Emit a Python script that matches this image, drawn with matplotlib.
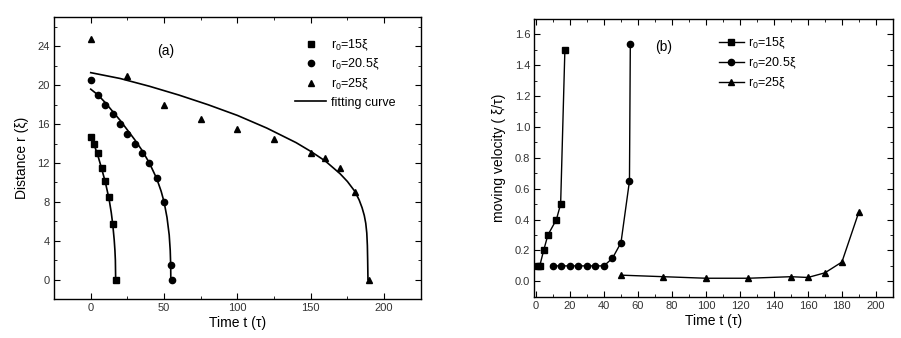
import matplotlib
matplotlib.use('Agg')
import matplotlib.pyplot as plt
from matplotlib.ticker import MultipleLocator, FormatStrFormatter

plt.rcParams['font.family'] = ['Liberation Sans', 'DejaVu Sans']
plt.rcParams['mathtext.fontset'] = 'custom'
plt.rcParams['mathtext.rm'] = 'Liberation Sans'

# ---- panel (a): distance vs time ----
t_a15 = [0, 2.5, 5, 7.5, 10, 12.5, 15, 17]
r_a15 = [14.7, 14.0, 13.0, 11.5, 10.2, 8.5, 5.7, 0]
t_a20 = [0, 5, 10, 15, 20, 25, 30, 35, 40, 45, 50, 55, 55.5]
r_a20 = [20.5, 19.0, 18.0, 17.0, 16.0, 15.0, 14.0, 13.0, 12.0, 10.5, 8.0, 1.5, 0]
t_a25 = [0, 25, 50, 75, 100, 125, 150, 160, 170, 180, 190]
r_a25 = [24.8, 21.0, 18.0, 16.5, 15.5, 14.5, 13.0, 12.5, 11.5, 9.0, 0]

# fitting curves
fit15_t = [0, 2.5, 5, 7.5, 10, 12.5, 14, 15, 16, 16.5, 16.8, 17]
fit15_r = [14.8, 13.8, 12.7, 11.4, 10.0, 8.3, 6.9, 5.7, 4.1, 3.0, 2.0, 0]
fit20_t = [0, 5, 10, 15, 20, 25, 30, 35, 40, 45, 48, 50, 52, 53.5, 54.2, 54.5, 54.6]
fit20_r = [19.6, 19.0, 18.2, 17.3, 16.4, 15.4, 14.4, 13.3, 12.0, 10.4, 9.1, 8.0, 6.4, 4.6, 3.0, 1.5, 0]
fit25_t = [0, 20, 40, 60, 80, 100, 120, 140, 150, 160, 170, 175, 180, 183, 185,
           186.5, 187.5, 188.2, 188.6, 188.8, 189]
fit25_r = [21.3, 20.7, 19.9, 19.0, 18.0, 16.9, 15.6, 14.1, 13.2, 12.2, 10.9, 10.1,
           9.1, 8.2, 7.4, 6.6, 5.8, 4.8, 3.5, 2.0, 0]

# ---- panel (b): velocity vs time ----
t_b15 = [1.2, 2.2, 4.5, 7, 12, 14.5, 17]
v_b15 = [0.1, 0.1, 0.2, 0.3, 0.4, 0.5, 1.5]
t_b20 = [10, 15, 20, 25, 30, 35, 40, 45, 50, 55, 55.5]
v_b20 = [0.1, 0.1, 0.1, 0.1, 0.1, 0.1, 0.1, 0.15, 0.25, 0.65, 1.54]
t_b25 = [50, 75, 100, 125, 150, 160, 170, 180, 190]
v_b25 = [0.04, 0.03, 0.02, 0.02, 0.03, 0.025, 0.055, 0.125, 0.45]

labels = ['r$_0$=15\u03be', 'r$_0$=20.5\u03be', 'r$_0$=25\u03be']

fig = plt.figure(figsize=(9.01, 3.38), dpi=100)
ax1 = fig.add_axes([0.060, 0.115, 0.407, 0.834])
ax2 = fig.add_axes([0.593, 0.122, 0.398, 0.822])

ms = 4.5
ax1.plot(t_a15, r_a15, 's', color='black', ms=ms, label=labels[0])
ax1.plot(t_a20, r_a20, 'o', color='black', ms=ms, label=labels[1])
ax1.plot(t_a25, r_a25, '^', color='black', ms=ms + 0.5, label=labels[2])
ax1.plot(fit15_t, fit15_r, '-', color='black', lw=1.2, label='fitting curve')
ax1.plot(fit20_t, fit20_r, '-', color='black', lw=1.2)
ax1.plot(fit25_t, fit25_r, '-', color='black', lw=1.2)
ax1.set_xlim(-25, 225)
ax1.set_ylim(-2, 27)
ax1.xaxis.set_major_locator(MultipleLocator(50))
ax1.xaxis.set_minor_locator(MultipleLocator(25))
ax1.yaxis.set_major_locator(MultipleLocator(4))
ax1.yaxis.set_minor_locator(MultipleLocator(2))
ax1.set_xlabel('Time t (\u03c4)', fontsize=10, labelpad=2)
ax1.set_ylabel('Distance r (\u03be)', fontsize=10, labelpad=6)
ax1.text(51, 23.5, '(a)', fontsize=10, ha='center', va='center')
ax1.legend(loc='upper left', bbox_to_anchor=(0.633, 0.96), frameon=False,
           fontsize=9, handlelength=2.5, handletextpad=0.4, labelspacing=0.35,
           borderpad=0.2)

ax2.plot(t_b15, v_b15, 's-', color='black', ms=ms, lw=1.0, label=labels[0])
ax2.plot(t_b20, v_b20, 'o-', color='black', ms=ms, lw=1.0, label=labels[1])
ax2.plot(t_b25, v_b25, '^-', color='black', ms=ms + 0.5, lw=1.0, label=labels[2])
ax2.set_xlim(-1, 210)
ax2.set_ylim(-0.1, 1.7)
ax2.xaxis.set_major_locator(MultipleLocator(20))
ax2.xaxis.set_minor_locator(MultipleLocator(10))
ax2.yaxis.set_major_locator(MultipleLocator(0.2))
ax2.yaxis.set_minor_locator(MultipleLocator(0.1))
ax2.yaxis.set_major_formatter(FormatStrFormatter('%.1f'))
ax2.set_xlabel('Time t (\u03c4)', fontsize=10, labelpad=2)
ax2.set_ylabel('moving velocity ( \u03be/\u03c4)', fontsize=10, labelpad=6)
ax2.text(75, 1.52, '(b)', fontsize=10, ha='center', va='center')
ax2.legend(loc='upper left', bbox_to_anchor=(0.49, 0.97), frameon=False,
           fontsize=9, handlelength=2.0, handletextpad=0.3, labelspacing=0.35,
           borderpad=0.2)

for ax in (ax1, ax2):
    ax.tick_params(which='both', direction='in', top=True, right=True,
                   labelsize=8, labelcolor='#333333', pad=3)
    ax.tick_params(which='major', length=4)
    ax.tick_params(which='minor', length=2)
    for sp in ax.spines.values():
        sp.set_linewidth(1.0)

fig.savefig('out.png', dpi=100)
